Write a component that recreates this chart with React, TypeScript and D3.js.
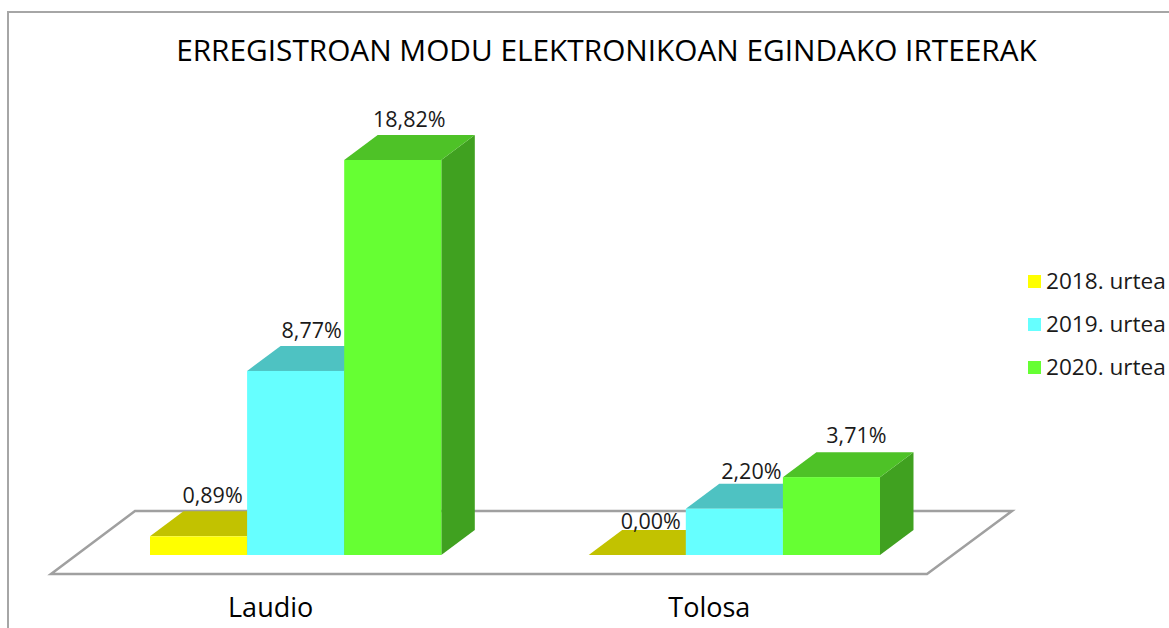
import { scaleBand, scaleLinear, color } from "d3";

const categories = ["Laudio", "Tolosa"];
const seriesNames = ["2018. urtea", "2019. urtea", "2020. urtea"];
const seriesColors = ["#ffff00", "#66ffff", "#66ff33"];
const values2018 = [0.89, 0.0];
const values2019 = [8.77, 2.2];
const values2020 = [18.82, 3.71];
const seriesValues = [values2018, values2019, values2020];
const title = "ERREGISTROAN MODU ELEKTRONIKOAN EGINDAKO IRTEERAK";

const width = 1169;
const height = 628;
const fontFamily = "'Open Sans', 'Noto Sans', sans-serif";

const depthX = 33.5;
const depthY = -25;
const baseY = 555;

// the labels were moved by hand in the original, [series][category]
const labelNudgeX = [
  [-1, -1.5],
  [1, 2],
  [1.5, 10],
];
const labelNudgeY = [
  [0, 7],
  [0, 3],
  [0, -1],
];

const xGroup = scaleBand<string>()
  .domain(categories)
  .range([150, 880])
  .paddingInner(0.336);
const xBar = scaleBand<string>()
  .domain(seriesNames)
  .range([0, xGroup.bandwidth()]);
const yScale = scaleLinear().domain([0, 18.82]).range([baseY, 160]);

const shade = (c: string, k: number) => {
  const col = color(c)!.rgb();
  return `rgb(${col.r * k},${col.g * k},${col.b * k})`;
};

const formatPct = (v: number) => v.toFixed(2).replace(".", ",") + "%";

const pts = (p: number[][]) => p.map((d) => d.join(",")).join(" ");

const floorPoints = [
  [51, 574],
  [927, 574],
  [1012, 511],
  [135, 511],
];

export default function App() {
  return (
    <svg
      width={width}
      height={height}
      style={{ position: "absolute", left: 0, top: 0, background: "#fff" }}
      fontFamily={fontFamily}
    >
      {/* chart frame */}
      <path d={`M8,${height}V12H${width}`} fill="none" stroke="#a6a6a6" strokeWidth={2} />

      <text x={606.5} y={61} textAnchor="middle" fontSize={29.8} fill="#000">
        {title}
      </text>

      <polygon points={pts(floorPoints)} fill="#fff" stroke="#a0a0a0" strokeWidth={2.5} />

      {/* right side and top first, fronts afterwards so they overlap like the 3d bars */}
      {categories.map((cat, ci) =>
        seriesNames.map((name, si) => {
          const x0 = xGroup(cat)! + xBar(name)!;
          const x1 = x0 + xBar.bandwidth();
          const top = yScale(seriesValues[si][ci]);
          const fill = seriesColors[si];
          return (
            <g key={cat + name}>
              <polygon
                points={pts([
                  [x1, baseY],
                  [x1 + depthX, baseY + depthY],
                  [x1 + depthX, top + depthY],
                  [x1, top],
                ])}
                fill={shade(fill, 0.63)}
              />
              <polygon
                points={pts([
                  [x0, top],
                  [x1, top],
                  [x1 + depthX, top + depthY],
                  [x0 + depthX, top + depthY],
                ])}
                fill={shade(fill, 0.76)}
              />
              <rect
                x={x0}
                y={top}
                width={x1 - x0}
                height={baseY - top}
                fill={fill}
              />
            </g>
          );
        })
      )}

      {categories.map((cat, ci) =>
        seriesNames.map((name, si) => {
          const x0 = xGroup(cat)! + xBar(name)!;
          const v = seriesValues[si][ci];
          return (
            <text
              key={cat + name}
              x={x0 + xBar.bandwidth() / 2 + 15 + labelNudgeX[si][ci]}
              y={yScale(v) + depthY - 8 + labelNudgeY[si][ci]}
              textAnchor="middle"
              fontSize={21.5}
              fill="#1a1a1a"
            >
              {formatPct(v)}
            </text>
          );
        })
      )}

      {categories.map((cat) => (
        <text
          key={cat}
          x={xGroup(cat)! + xGroup.bandwidth() / 2 - 25}
          y={617}
          textAnchor="middle"
          fontSize={27}
          fill="#000"
        >
          {cat}
        </text>
      ))}

      {seriesNames.map((name, i) => (
        <g key={name} transform={`translate(1028,${275 + i * 43})`}>
          <rect width={13} height={13} fill={seriesColors[i]} />
          <text x={18} y={14} fontSize={22.6} fill="#1a1a1a">
            {name}
          </text>
        </g>
      ))}
    </svg>
  );
}
